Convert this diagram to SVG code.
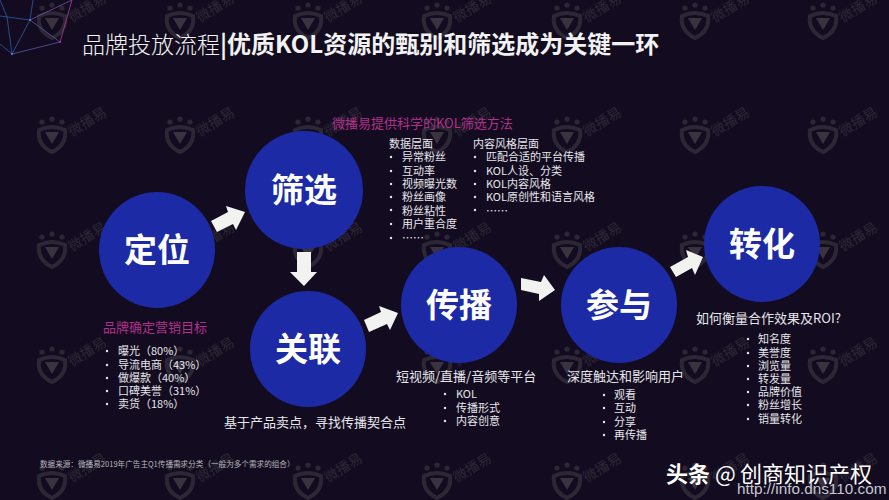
<svg xmlns="http://www.w3.org/2000/svg" width="889" height="500" viewBox="0 0 889 500">
<defs>
<style>
text{font-family:"Noto Sans CJK SC","Liberation Sans",sans-serif}
.t{fill:#e6e6ea;font-size:11px}
.m{fill:#e6e6ea;font-size:13px}
.p{fill:#b0308c;font-size:13px}
.n{fill:#fff;font-size:33px;font-weight:700;text-anchor:middle}
.c{fill:#1c2aa6}
.a{fill:#f2f2f0}
.b{fill:#e6e6ea}
.w{fill:#2c2735;font-size:14px}
</style>
<g id="wm">
<path d="M-13 -7Q0 -13 13 -7Q15 8 0 15Q-15 8 -13 -7Z" fill="none" stroke="#2c2735" stroke-width="4"/>
<path d="M-7 -5H7L0 7Z" fill="#39333f"/>
<circle cx="-10" cy="-15" r="2.6" fill="#2c2735"/>
<circle cx="0" cy="-18" r="2.6" fill="#2c2735"/>
<circle cx="10" cy="-15" r="2.6" fill="#2c2735"/>
<text class="w" transform="translate(20 0) rotate(-32)">微播易</text>
</g>
</defs>
<rect width="889" height="500" fill="#130c20"/>
<g id="watermarks">
<use href="#wm" x="52" y="23"/><use href="#wm" x="180" y="23"/><use href="#wm" x="308" y="23"/><use href="#wm" x="437" y="23"/><use href="#wm" x="567" y="23"/><use href="#wm" x="695" y="23"/><use href="#wm" x="823" y="23"/>
<use href="#wm" x="52" y="137"/><use href="#wm" x="180" y="137"/><use href="#wm" x="308" y="137"/><use href="#wm" x="437" y="137"/><use href="#wm" x="567" y="137"/><use href="#wm" x="695" y="137"/><use href="#wm" x="823" y="137"/>
<use href="#wm" x="52" y="252"/><use href="#wm" x="180" y="252"/><use href="#wm" x="308" y="252"/><use href="#wm" x="437" y="252"/><use href="#wm" x="567" y="252"/><use href="#wm" x="695" y="252"/><use href="#wm" x="823" y="252"/>
<use href="#wm" x="52" y="367"/><use href="#wm" x="180" y="367"/><use href="#wm" x="308" y="367"/><use href="#wm" x="437" y="367"/><use href="#wm" x="567" y="367"/><use href="#wm" x="695" y="367"/><use href="#wm" x="823" y="367"/>
<use href="#wm" x="52" y="483"/><use href="#wm" x="180" y="483"/><use href="#wm" x="308" y="483"/><use href="#wm" x="437" y="483"/><use href="#wm" x="567" y="483"/><use href="#wm" x="695" y="483"/><use href="#wm" x="823" y="483"/>
</g>
<g id="mesh" fill="none" stroke-width="0.8">
<path d="M0 16L30 20L12 54L7 17M12 54L0 44M33 0L30 20M7 17L0 0" stroke="#2f5aa8"/>
<path d="M30 20L60 42L12 54" stroke="#5a55a8"/>
<path d="M30 20L72 0" stroke="#7a4ea8"/>
<path d="M72 0L60 42" stroke="#b03a9a"/>
<circle cx="30" cy="20" r="1" fill="#5a8ad0" stroke="none"/>
<circle cx="60" cy="42" r="1" fill="#b03a9a" stroke="none"/>
<circle cx="12" cy="54" r="1" fill="#5a8ad0" stroke="none"/>
</g>
<text x="82" y="53" font-size="23" fill="#f2f2f2" font-weight="300">品牌投放流程<tspan font-size="24" font-weight="700">|优质KOL资源的甄别和筛选成为关键一环</tspan></text>
<g id="connectors">
<polygon class="a" points="211,221 228,212 226,206 245,212 236,230 233,224 217,232"/>
<polygon class="a" points="297,252 311,252 311,272 317,272 304,286 290,272 297,272"/>
<polygon class="a" points="364,320 381,312 379,306 398,313 390,330 387,324 369,332"/>
<polygon class="a" points="521,278 541,282 544,275 555,290 539,301 539,294 521,290"/>
<polygon class="a" points="670,267 688,257 686,250 703,257 695,275 692,268 676,277"/>
</g>
<g id="node-dingwei"><circle class="c" cx="157" cy="250" r="58"/><text class="n" x="157" y="262">定位</text></g>
<g id="node-shaixuan"><circle class="c" cx="304" cy="190" r="59"/><text class="n" x="304" y="202">筛选</text></g>
<g id="node-guanlian"><circle class="c" cx="308" cy="349" r="58"/><text class="n" x="308" y="361">关联</text></g>
<g id="node-chuanbo"><circle class="c" cx="459" cy="305" r="58"/><text class="n" x="459" y="317">传播</text></g>
<g id="node-canyu"><circle class="c" cx="619" cy="305" r="58"/><text class="n" x="619" y="317">参与</text></g>
<g id="node-zhuanhua"><circle class="c" cx="762" cy="244" r="58"/><text class="n" x="762" y="256">转化</text></g>
<g id="text-shaixuan">
<text class="p" x="332" y="128">微播易提供科学的KOL筛选方法</text>
<text class="t" x="389" y="148">数据层面</text>
<circle class="b" cx="391" cy="157" r="1.2"/><text class="t" x="402" y="161">异常粉丝</text>
<circle class="b" cx="391" cy="171" r="1.2"/><text class="t" x="402" y="175">互动率</text>
<circle class="b" cx="391" cy="184" r="1.2"/><text class="t" x="402" y="188">视频曝光数</text>
<circle class="b" cx="391" cy="197" r="1.2"/><text class="t" x="402" y="201">粉丝画像</text>
<circle class="b" cx="391" cy="210" r="1.2"/><text class="t" x="402" y="215">粉丝粘性</text>
<circle class="b" cx="391" cy="224" r="1.2"/><text class="t" x="402" y="228">用户重合度</text>
<circle class="b" cx="391" cy="238" r="1.2"/><text class="t" x="402" y="242">……</text>
<text class="t" x="473" y="148">内容风格层面</text>
<circle class="b" cx="475" cy="157" r="1.2"/><text class="t" x="486" y="161">匹配合适的平台传播</text>
<circle class="b" cx="475" cy="171" r="1.2"/><text class="t" x="486" y="175">KOL人设、分类</text>
<circle class="b" cx="475" cy="184" r="1.2"/><text class="t" x="486" y="188">KOL内容风格</text>
<circle class="b" cx="475" cy="197" r="1.2"/><text class="t" x="486" y="201">KOL原创性和语言风格</text>
<circle class="b" cx="475" cy="210" r="1.2"/><text class="t" x="486" y="215">……</text>
</g>
<g id="text-dingwei">
<text class="p" x="103" y="332">品牌确定营销目标</text>
<circle class="b" cx="107" cy="351" r="1.2"/><text class="t" x="118" y="355">曝光（80%）</text>
<circle class="b" cx="107" cy="365" r="1.2"/><text class="t" x="118" y="369">导流电商（43%）</text>
<circle class="b" cx="107" cy="378" r="1.2"/><text class="t" x="118" y="382">做爆款（40%）</text>
<circle class="b" cx="107" cy="391" r="1.2"/><text class="t" x="118" y="395">口碑美誉（31%）</text>
<circle class="b" cx="107" cy="404" r="1.2"/><text class="t" x="118" y="408">卖货（18%）</text>
</g>
<text class="m" x="224" y="427">基于产品卖点，寻找传播契合点</text>
<g id="text-chuanbo">
<text class="m" x="396" y="381">短视频/直播/音频等平台</text>
<circle class="b" cx="445" cy="394" r="1.2"/><text class="t" x="456" y="398">KOL</text>
<circle class="b" cx="445" cy="408" r="1.2"/><text class="t" x="456" y="412">传播形式</text>
<circle class="b" cx="445" cy="421" r="1.2"/><text class="t" x="456" y="425">内容创意</text>
</g>
<g id="text-canyu">
<text class="m" x="567" y="381">深度触达和影响用户</text>
<circle class="b" cx="604" cy="395" r="1.2"/><text class="t" x="614" y="399">观看</text>
<circle class="b" cx="604" cy="408" r="1.2"/><text class="t" x="614" y="412">互动</text>
<circle class="b" cx="604" cy="422" r="1.2"/><text class="t" x="614" y="426">分享</text>
<circle class="b" cx="604" cy="435" r="1.2"/><text class="t" x="614" y="439">再传播</text>
</g>
<g id="text-zhuanhua">
<text class="m" x="696" y="323">如何衡量合作效果及ROI?</text>
<circle class="b" cx="748" cy="339" r="1.2"/><text class="t" x="758" y="343">知名度</text>
<circle class="b" cx="748" cy="353" r="1.2"/><text class="t" x="758" y="357">美誉度</text>
<circle class="b" cx="748" cy="366" r="1.2"/><text class="t" x="758" y="370">浏览量</text>
<circle class="b" cx="748" cy="379" r="1.2"/><text class="t" x="758" y="383">转发量</text>
<circle class="b" cx="748" cy="392" r="1.2"/><text class="t" x="758" y="396">品牌价值</text>
<circle class="b" cx="748" cy="405" r="1.2"/><text class="t" x="758" y="409">粉丝增长</text>
<circle class="b" cx="748" cy="419" r="1.2"/><text class="t" x="758" y="423">销量转化</text>
</g>
<text x="40" y="467" font-size="7.6" fill="#b5b5ba">数据来源：微播易2019年广告主Q1传播需求分类（一般为多个需求的组合）</text>
<text x="666" y="482" font-size="22" fill="#fff"><tspan font-weight="700">头条</tspan><tspan x="715">@</tspan><tspan x="740">创商知识产权</tspan></text>
<text x="737" y="494" font-size="15.3" fill="#c8c8d0" style="font-family:'Liberation Sans',sans-serif">http://info.dns110.com</text>
</svg>
